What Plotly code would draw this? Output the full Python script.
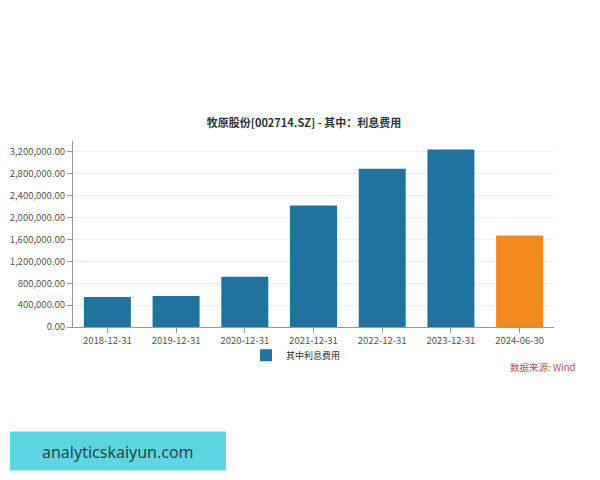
import plotly.graph_objects as go

categories = ["2018-12-31", "2019-12-31", "2020-12-31", "2021-12-31",
              "2022-12-31", "2023-12-31", "2024-06-30"]
interest_expense = [550000, 565000, 920000, 2220000, 2895000, 3244000, 1674000]
bar_colors = ["#21739f"] * 6 + ["#f5891d"]
tick_values = [0, 400000, 800000, 1200000, 1600000, 2000000, 2400000, 2800000, 3200000]
tick_labels = [f"{v:,.2f}" for v in tick_values]
series_name = "其中利息费用"
title_text = "牧原股份[002714.SZ] - 其中：利息费用"
source_text = "数据来源: Wind"
watermark_text = "analyticskaiyun.com"

font_family = "Noto Sans CJK SC, Noto Sans, sans-serif"

# page offset (browser body margin)
OFF = 8
W, H = 592, 472
L, R, T, B = 73 - OFF, 554 - OFF, 141 - OFF, 326.7 - OFF


def px(xpix):
    return (xpix - OFF - L) / (R - L)


def py(ypix):
    return (B - (ypix - OFF)) / (B - T)


fig = go.Figure()
fig.add_trace(go.Bar(
    x=categories, y=interest_expense, name=series_name,
    marker=dict(color=bar_colors, line=dict(width=0)),
    showlegend=True,
))

fig.update_layout(
    width=W, height=H,
    paper_bgcolor="white", plot_bgcolor="white",
    margin=dict(l=L, r=W - R, t=T, b=H - B, autoexpand=False),
    font=dict(family=font_family, size=10, color="#555555"),
    title=dict(text=f"<b>{title_text}</b>", x=0.5, xanchor="center",
               y=1 - (123 - OFF) / H, yanchor="middle",
               font=dict(size=11, color="#333333", family=font_family)),
    bargap=0.316,
    showlegend=True,
    legend=dict(orientation="h", x=px(296), xanchor="center", y=py(355), yanchor="middle",
                font=dict(size=9, color="#333333"), itemwidth=30,
                bgcolor="rgba(0,0,0,0)"),
    xaxis=dict(type="category", showline=True, linecolor="#999999", linewidth=1,
               ticks="outside", ticklen=5, tickcolor="#999999", automargin=False,
               tickfont=dict(size=9.5, color="#555555"), showgrid=False),
    yaxis=dict(range=[0, 3400000], tickvals=tick_values, ticktext=tick_labels,
               showline=True, linecolor="#999999", linewidth=1, automargin=False,
               ticks="outside", ticklen=5, tickcolor="#999999",
               tickfont=dict(size=9.5, color="#555555"),
               showgrid=True, gridcolor="#eeeeee", gridwidth=1, zeroline=False),
)

fig.add_annotation(text=source_text, xref="paper", yref="paper",
                   x=px(578), y=py(367), xanchor="right", yanchor="middle",
                   showarrow=False, font=dict(size=9.5, color="#c0504d"))

fig.add_shape(type="rect", xref="paper", yref="paper",
              x0=px(10), x1=px(226), y0=py(470), y1=py(431),
              fillcolor="#5dd5e3", line=dict(width=0), layer="below")
fig.add_annotation(text=watermark_text, xref="paper", yref="paper",
                   x=px(118), y=py(451), xanchor="center", yanchor="middle",
                   showarrow=False,
                   font=dict(size=16, color="#1f4a4a", family="Noto Sans, sans-serif"))

fig.write_html("out.html")
